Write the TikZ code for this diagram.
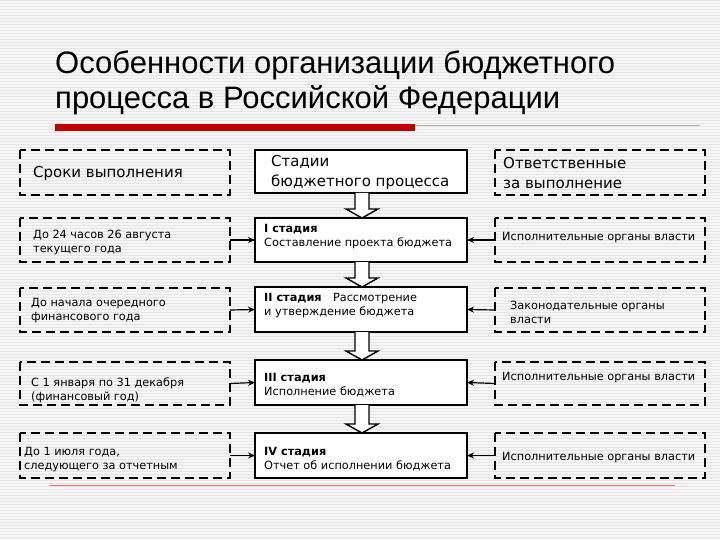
\documentclass[tikz,border=0pt]{standalone}
\usepackage{fontspec}
\setmainfont{DejaVu Sans}
\newfontfamily\titlefont{Liberation Sans}
\usetikzlibrary{arrows.meta,calc}
\tikzset{
 dbox/.style={draw, dash pattern=on 9pt off 5pt, line width=2pt},
 sbox/.style={draw, line width=2pt, fill=white},
 txt/.style={anchor=west, align=left, font=\fontsize{11.3}{14}\selectfont, inner sep=0pt},
 htxt/.style={anchor=west, align=left, font=\fontsize{15}{20}\selectfont, inner sep=0pt},
 conn/.style={-{Stealth[length=7pt,width=6pt]}, line width=1.2pt},
 hollow/.style={draw, line width=1.4pt, fill=white}
}
\begin{document}
\begin{tikzpicture}[x=1pt,y=-1pt]
\useasboundingbox (0,0) rectangle (720,540);
\fill[gray!7] (0,0) rectangle (720,540);
\foreach \y in {0,3,...,540} \draw[gray!20, line width=0.4pt] (0,\y) -- (720,\y);
% title
\node[anchor=west, font=\titlefont\fontsize{31}{35}\selectfont, align=left, inner sep=0pt] (title) at (55,83) {Особенности организации бюджетного\\процесса в Российской Федерации};
\fill[red!75!black] (55,124) rectangle (415,131);
\draw[gray!60, line width=0.8pt] (415,125) -- (700,125);
\draw[red!60, line width=0.8pt] (50,485) -- (675,485);
% boxes
\foreach \n/\t/\b in {0/150/195,1/218/262,2/288/332,3/362/405,4/433/478}{
  \draw[dbox] (20,\t) rectangle (230,\b);
  \draw[dbox] (495,\t) rectangle (705,\b);
  \coordinate (L\n) at (230,{(\t+\b)/2});
  \coordinate (R\n) at (495,{(\t+\b)/2});
}
\foreach \n/\t/\b in {0/150/193,1/218/262,2/287/332,3/360/405,4/433/478}{
  \draw[sbox] (255,\t) rectangle (467,\b);
  \coordinate (ML\n) at (255,{(\t+\b)/2});
  \coordinate (MR\n) at (467,{(\t+\b)/2});
  \coordinate (MT\n) at (362,\t);
  \coordinate (MB\n) at (362,\b);
}
% texts
\node[htxt] (l0) at (33,173) {Сроки выполнения};
\node[txt] (l1) at (33,242) {До 24 часов 26 августа\\текущего года};
\node[txt] (l2) at (31,311) {До начала очередного\\финансового года};
\node[txt] (l3) at (31,390) {С 1 января по 31 декабря\\(финансовый год)};
\node[txt] (l4) at (24,460) {До 1 июля года,\\следующего за отчетным};
\node[htxt] (m0) at (271,172) {Стадии\\бюджетного процесса};
\node[txt] (m1) at (264,237) {\textbf{I стадия}\\Составление проекта бюджета};
\node[txt] (m2) at (264,306) {\textbf{II стадия}\quad Рассмотрение\\и утверждение бюджета};
\node[txt] (m3) at (264,385) {\textbf{III стадия}\\Исполнение бюджета};
\node[txt] (m4) at (264,459) {\textbf{IV стадия}\\Отчет об исполнении бюджета};
\node[htxt] (r0) at (503,173) {Ответственные\\за выполнение};
\node[txt] (r1) at (502,238) {Исполнительные органы власти};
\node[txt] (r2) at (510,312) {Законодательные органы\\власти};
\node[txt] (r3) at (502,378) {Исполнительные органы власти};
\node[txt] (r4) at (502,458) {Исполнительные органы власти};
% connectors
\foreach \n in {1,2,3,4}{
  \draw[conn] (L\n) -- (ML\n);
  \draw[conn] (R\n) -- (MR\n);
}
% hollow arrows
\foreach \a/\b in {0/1,1/2,2/3,3/4}{
  \path[hollow] ($(MB\a)+(-7,0)$) -- ($(MT\b)+(-7,-9)$) -- ($(MT\b)+(-16,-9)$) -- (MT\b) -- ($(MT\b)+(16,-9)$) -- ($(MT\b)+(7,-9)$) -- ($(MB\a)+(7,0)$);
}
\end{tikzpicture}
\end{document}
